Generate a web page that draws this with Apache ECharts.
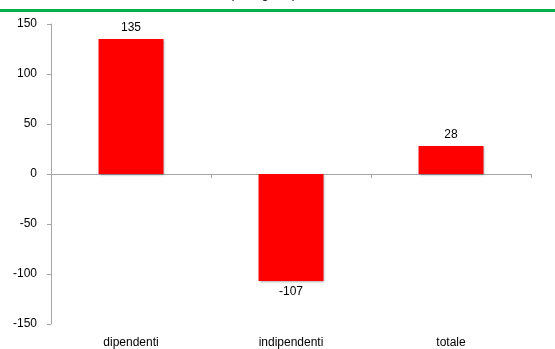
<!DOCTYPE html>
<html>
<head>
<meta charset="utf-8">
<script src="https://cdn.jsdelivr.net/npm/echarts@6/dist/echarts.min.js"></script>
<style>
  html, body { margin: 0; padding: 0; background: #fff; }
  #chart { width: 555px; height: 349px; }
</style>
</head>
<body>
<div id="chart"></div>
<script>
// dati
var categorie = ['dipendenti', 'indipendenti', 'totale'];
var valori = [135, -107, 28];
var tickY = [-150, 150, 50]; // min, max, passo

var chart = echarts.init(document.getElementById('chart'));

var option = {
    animation: false,
    textStyle: { fontFamily: 'Liberation Sans, Arial, sans-serif' },
    grid: { left: 51, right: 24, top: 24, bottom: 25 },
    graphic: [
        {
            type: 'rect',
            shape: { x: 0, y: 9, width: 555, height: 3 },
            style: { fill: '#00b050' }
        },
        {
            // titolo tagliato in alto
            type: 'text',
            x: 263, y: 1,
            style: {
                text: '(in migliaia)',
                font: '13px "Liberation Sans", Arial, sans-serif',
                fill: '#000',
                textAlign: 'center',
                textVerticalAlign: 'bottom'
            }
        }
    ],
    xAxis: [
        {
            type: 'category',
            data: categorie,
            axisLine: { onZero: true, lineStyle: { color: '#a6a6a6', width: 1 } },
            axisTick: { show: true, inside: false, length: 4, lineStyle: { color: '#a6a6a6' } },
            axisLabel: { show: false }
        },
        {
            type: 'category',
            data: categorie,
            position: 'bottom',
            axisLine: { show: false, onZero: false },
            axisTick: { show: false },
            axisLabel: { show: true, color: '#000', fontSize: 12, margin: 13 }
        }
    ],
    yAxis: {
        type: 'value',
        min: tickY[0],
        max: tickY[1],
        interval: tickY[2],
        splitLine: { show: false },
        axisLine: { show: true, lineStyle: { color: '#a6a6a6', width: 1 } },
        axisTick: { show: true, length: 4, lineStyle: { color: '#a6a6a6' } },
        axisLabel: { color: '#000', fontSize: 12, margin: 14 }
    },
    series: [
        {
            type: 'bar',
            xAxisIndex: 0,
            data: valori,
            barWidth: '40.6%',
            itemStyle: {
                color: '#ff0000',
                shadowColor: 'rgba(0,0,0,0.35)',
                shadowBlur: 2,
                shadowOffsetX: 1,
                shadowOffsetY: 1
            },
            label: {
                show: true,
                position: 'outside',
                color: '#000',
                fontSize: 12,
                distance: 5
            }
        }
    ]
};

chart.setOption(option);
</script>
</body>
</html>
